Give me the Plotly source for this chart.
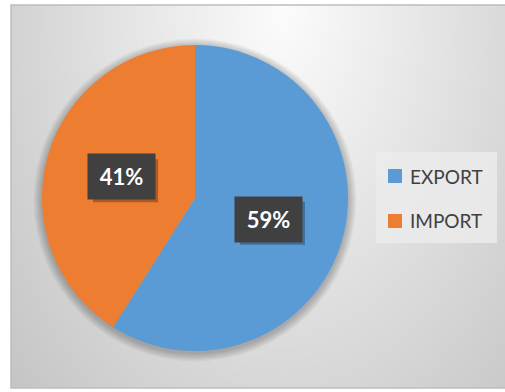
import base64, math, struct, zlib
import numpy as np
import plotly.graph_objects as go

labels = ["EXPORT", "IMPORT"]
values = [59, 41]
colors = ["#5B9BD5", "#ED7D31"]

W, H = 505, 392

# ---- background gradient image (chart area) ----
def png_uri(arr):
    h, w, _ = arr.shape
    raw = b"".join(b"\x00" + arr[i].tobytes() for i in range(h))
    def chunk(t, d):
        c = struct.pack(">I", len(d)) + t + d
        return c + struct.pack(">I", zlib.crc32(t + d) & 0xffffffff)
    png = b"\x89PNG\r\n\x1a\n" + chunk(b"IHDR", struct.pack(">IIBBBBB", w, h, 8, 2, 0, 0, 0)) \
        + chunk(b"IDAT", zlib.compress(raw, 9)) + chunk(b"IEND", b"")
    return "data:image/png;base64," + base64.b64encode(png).decode()

bw, bh = 494, 383
yy, xx = np.mgrid[0:bh, 0:bw].astype(float)
d = np.sqrt(((xx - 270) / 1.0) ** 2 + ((yy - 5) / 1.55) ** 2) / 330
v = 252 - 50 * np.clip(d, 0, 1.2)
img = np.clip(v, 0, 255).astype(np.uint8)
img = np.stack([img, img, img], axis=-1)
bg_uri = png_uri(img)

cx, cy, R = 195, 198, 153  # pixel geometry of the pie
dom_x = [(cx - R) / W, (cx + R) / W]
dom_y = [(H - cy - R) / H, (H - cy + R) / H]

fig = go.Figure(go.Pie(
    labels=labels, values=values, sort=False, direction="clockwise", rotation=0,
    marker=dict(colors=colors, line=dict(width=0)),
    textinfo="none", hoverinfo="label+percent", showlegend=False,
    domain=dict(x=dom_x, y=dom_y),
))

shapes = []
# chart box border
shapes.append(dict(type="rect", xref="paper", yref="paper", x0=11 / W, x1=1.01, y0=(H - 388) / H, y1=(H - 5) / H,
                   line=dict(color="#BDBDBD", width=1.5), fillcolor="rgba(0,0,0,0)", layer="below"))
# soft shadow around pie
for k in range(1, 8):
    r = R + k * 1.2
    shapes.append(dict(type="circle", xref="paper", yref="paper",
                       x0=(cx - r) / W, x1=(cx + r) / W, y0=(H - cy - 2 - r) / H, y1=(H - cy - 2 + r) / H,
                       fillcolor="rgba(0,0,0,0.035)", line=dict(width=0), layer="below"))

annotations = []
total = sum(values)
cum = 0
bwid, bhgt = 65, 43
for lab, val in zip(labels, values):
    mid = (cum + val / 2) / total * 2 * math.pi
    cum += val
    rr = 0.5 * R
    px = cx + rr * math.sin(mid)
    py = cy - rr * math.cos(mid)
    txt = f"<b>{round(val / total * 100)}%</b>"
    # box shadow
    shapes.append(dict(type="rect", xref="paper", yref="paper",
                       x0=(px - bwid / 2 + 4) / W, x1=(px + bwid / 2 + 4) / W,
                       y0=(H - py - bhgt / 2 - 4) / H, y1=(H - py + bhgt / 2 - 4) / H,
                       fillcolor="rgba(0,0,0,0.28)", line=dict(width=0)))
    annotations.append(dict(x=px / W, y=(H - py) / H, xref="paper", yref="paper", text=txt, showarrow=False,
                            xanchor="center", yanchor="middle",
                            font=dict(family="Lato", size=22, color="white"),
                            bgcolor="#404040", width=bwid, height=bhgt))

# legend (manual)
shapes.append(dict(type="rect", xref="paper", yref="paper", x0=376 / W, x1=497 / W, y0=(H - 243) / H, y1=(H - 152) / H,
                   fillcolor="rgba(235,235,235,0.85)", line=dict(width=0)))
leg_y = [176, 221]
for lab, col, ly in zip(labels, colors, leg_y):
    shapes.append(dict(type="rect", xref="paper", yref="paper", x0=388 / W, x1=402 / W,
                       y0=(H - ly - 7) / H, y1=(H - ly + 7) / H, fillcolor=col, line=dict(width=0)))
    annotations.append(dict(x=408 / W, y=(H - ly) / H, xref="paper", yref="paper", text=lab, showarrow=False,
                            xanchor="left", yanchor="middle", font=dict(family="Lato", size=19, color="#404040")))

fig.update_layout(
    width=W, height=H, margin=dict(l=0, r=0, t=0, b=0),
    paper_bgcolor="white", plot_bgcolor="white",
    shapes=shapes, annotations=annotations,
    images=[dict(source=bg_uri, xref="paper", yref="paper", x=11 / W, y=(H - 5) / H,
                 sizex=bw / W, sizey=bh / H, xanchor="left", yanchor="top", sizing="stretch", layer="below")],
)

fig.write_html("out.html")
